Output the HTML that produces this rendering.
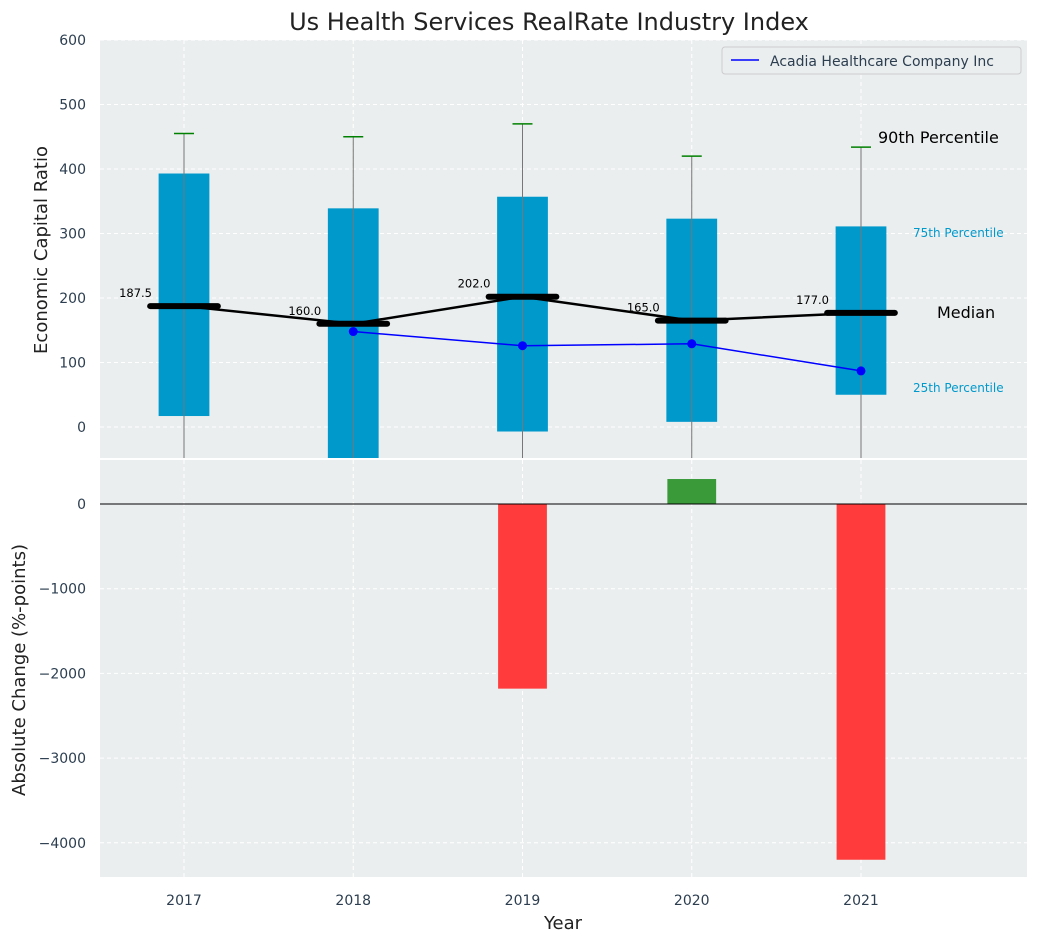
<!DOCTYPE html>
<html><head><meta charset="utf-8"><style>
body{margin:0;background:#fff;font-family:"Liberation Sans","DejaVu Sans",sans-serif}
svg text{font-family:"DejaVu Sans","Liberation Sans",sans-serif}
</style></head><body>
<svg id="c" width="1039" height="942"></svg>
<script>
const years=[2017,2018,2019,2020,2021];
const p25=[17,-60,-7,8,50];
const p75=[393,339,357,323,311];
const p10=[-100,-100,-100,-100,-100];
const p90=[455,450,470,420,434];
const medians=[187.5,160.0,202.0,165.0,177.0];
const company=[null,148,126,129,87];
const changes=[0,0,-2180,295,-4200];
const topTicks=[0,100,200,300,400,500,600];
const botTicks=[0,-1000,-2000,-3000,-4000];

const NS="http://www.w3.org/2000/svg";
const svg=document.getElementById('c');
function el(t,a,p){const e=document.createElementNS(NS,t);for(const k in a)e.setAttribute(k,a[k]);(p||svg).appendChild(e);return e;}
const L=100,R=1027;
const x=v=>184+(v-2017)*169.25;
const T0=40,T1=458,yT=v=>427-v*0.645;
const B0=460,B1=877,yB=v=>504-v*0.0847;

let e=el('rect',{x:L,y:T0,width:R-L,height:T1-T0,fill:'#eaeeef'});

e=el('rect',{x:L,y:B0,width:R-L,height:B1-B0,fill:'#eaeeef'});


const clipT=el('clipPath',{id:'ct'});el('rect',{x:L,y:T0,width:R-L,height:T1-T0},clipT);
const clipB=el('clipPath',{id:'cb'});el('rect',{x:L,y:B0,width:R-L,height:B1-B0},clipB);
const gT=el('g',{'clip-path':'url(#ct)'});const gB=el('g',{'clip-path':'url(#cb)'});

topTicks.forEach(t=>{el('line',{x1:L,x2:R,y1:yT(t),y2:yT(t),stroke:'#fff','stroke-dasharray':'4,3'},gT);
 e=el('text',{x:L-14,y:yT(t)+5,'text-anchor':'end','font-size':14,fill:'#2c3e50'});e.textContent=t;
 });
botTicks.forEach(t=>{el('line',{x1:L,x2:R,y1:yB(t),y2:yB(t),stroke:'#fff','stroke-dasharray':'4,3'},gB);
 e=el('text',{x:L-14,y:yB(t)+5,'text-anchor':'end','font-size':14,fill:'#2c3e50'});e.textContent=t===0?'0':'\u2212'+(-t);
 });
years.forEach(yr=>{el('line',{x1:x(yr),x2:x(yr),y1:T0,y2:T1,stroke:'#fff','stroke-dasharray':'4,3'},gT);
 el('line',{x1:x(yr),x2:x(yr),y1:B0,y2:B1,stroke:'#fff','stroke-dasharray':'4,3'},gB);
 e=el('text',{x:x(yr),y:905,'text-anchor':'middle','font-size':14,fill:'#2c3e50'});e.textContent=yr;
 });

const bw=0.3*169.25;
years.forEach((yr,i)=>{
 e=el('rect',{x:x(yr)-bw/2,y:yT(p75[i]),width:bw,height:yT(p25[i])-yT(p75[i]),fill:'#0099cc'},gT);
 
 e=el('line',{x1:x(yr),x2:x(yr),y1:yT(p10[i]),y2:yT(p90[i]),stroke:'#777','stroke-width':1},gT);
 
 e=el('line',{x1:x(yr)-10,x2:x(yr)+10,y1:yT(p90[i]),y2:yT(p90[i]),stroke:'green','stroke-width':1.5},gT);
 
});
e=el('polyline',{points:years.map((yr,i)=>x(yr)+','+yT(medians[i])).join(' '),fill:'none',stroke:'#000','stroke-width':2.5},gT);

years.forEach((yr,i)=>{
 e=el('line',{x1:x(yr)-0.2*169.25,x2:x(yr)+0.2*169.25,y1:yT(medians[i]),y2:yT(medians[i]),stroke:'#000','stroke-width':6,'stroke-linecap':'round'},gT);
 
 e=el('text',{x:x(yr)-32,y:yT(medians[i])-9,'text-anchor':'end','font-size':11.5,fill:'#000'});e.textContent=medians[i].toFixed(1);
 
});
const pts=years.map((yr,i)=>company[i]==null?null:[x(yr),yT(company[i])]).filter(p=>p);
e=el('polyline',{points:pts.map(p=>p.join(',')).join(' '),fill:'none',stroke:'blue','stroke-width':1.5},gT);

pts.forEach(p=>{e=el('circle',{cx:p[0],cy:p[1],r:4.5,fill:'blue'},gT);
 });

const ann=[[878,143,'90th Percentile',16,'#000'],[913,237,'75th Percentile',12,'#0099cc'],[937,318,'Median',16,'#000'],[913,392,'25th Percentile',12,'#0099cc']];
ann.forEach(a=>{e=el('text',{x:a[0],y:a[1],'font-size':a[3],fill:a[4]});e.textContent=a[2];
 });

e=el('g',{});
el('rect',{x:722,y:47,width:299,height:27,fill:'#eaeeef',stroke:'#ccc',rx:3},e);
el('line',{x1:731,x2:759,y1:60,y2:60,stroke:'blue','stroke-width':1.5},e);
let t=el('text',{x:770,y:66,'font-size':14,fill:'#2c3e50'},e);t.textContent='Acadia Healthcare Company Inc';

years.forEach((yr,i)=>{ if(!changes[i])return;
 const v=changes[i];
 e=el('rect',{x:x(yr)-bw/2+1,y:Math.min(yB(0),yB(v)),width:bw-2,height:Math.abs(yB(v)-yB(0)),fill:v<0?'#ff3b3b':'#3a9a3a'},gB);
 });
el('line',{x1:L,x2:R,y1:yB(0),y2:yB(0),stroke:'#000','stroke-width':1});

e=el('text',{x:549,y:30,'text-anchor':'middle','font-size':24,fill:'#222'});e.textContent='Us Health Services RealRate Industry Index';

e=el('text',{x:47,y:250,'text-anchor':'middle','font-size':18,fill:'#222',transform:'rotate(-90 47 250)'});e.textContent='Economic Capital Ratio';

e=el('text',{x:25,y:670,'text-anchor':'middle','font-size':18,fill:'#222',transform:'rotate(-90 25 670)'});e.textContent='Absolute Change (%-points)';

e=el('text',{x:563,y:929,'text-anchor':'middle','font-size':18,fill:'#222'});e.textContent='Year';

</script>
</body></html>
